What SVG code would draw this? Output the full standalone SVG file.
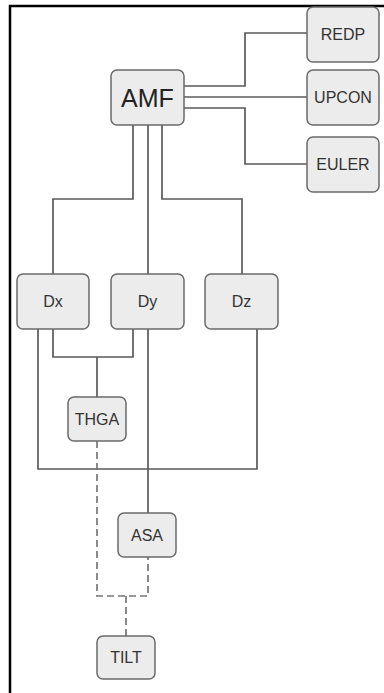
<svg xmlns="http://www.w3.org/2000/svg" width="384" height="693" viewBox="0 0 384 693">
<style>
.n rect{fill:#ececec;stroke:#6a6a6a;stroke-width:1.5}
.n text{font-family:"Liberation Sans",Arial,sans-serif;font-size:16px;fill:#333;text-anchor:middle;dominant-baseline:central}
#edges path{fill:none;stroke:#5a5a5a;stroke-width:1.7}
#edges .d{stroke:#777;stroke-dasharray:7,4}
</style>
<rect width="384" height="693" fill="#fff"/>
<path d="M10,693 V6 H384" fill="none" stroke="#000" stroke-width="2.5"/>
<g id="edges">
<path d="M184,86 H245 V33 H307"/>
<path d="M184,97 H307"/>
<path d="M184,108 H245 V164 H307"/>
<path d="M133,125 V199 H53 V274"/>
<path d="M148,125 V274"/>
<path d="M162,125 V199 H242 V274"/>
<path d="M53,329 V357 H133 V329"/>
<path d="M97,357 V397"/>
<path d="M38,329 V469 H257 V329"/>
<path d="M148,329 V513"/>
<path class="d" d="M97,441 V596 H148 V557"/>
<path class="d" d="M126,596 V636"/>
</g>
<g id="REDP" class="n"><rect x="307" y="7" width="72" height="55" rx="6"/><text x="343" y="34">REDP</text></g>
<g id="UPCON" class="n"><rect x="307" y="70" width="72" height="55" rx="6"/><text x="343" y="97">UPCON</text></g>
<g id="EULER" class="n"><rect x="307" y="137" width="72" height="55" rx="6"/><text x="343" y="164">EULER</text></g>
<g id="AMF" class="n"><rect x="111" y="70" width="73" height="55" rx="6"/><text x="147.5" y="98" style="font-size:25px;fill:#222">AMF</text></g>
<g id="Dx" class="n"><rect x="17" y="274" width="72" height="55" rx="6"/><text x="53" y="301">Dx</text></g>
<g id="Dy" class="n"><rect x="111" y="274" width="73" height="55" rx="6"/><text x="147.5" y="301">Dy</text></g>
<g id="Dz" class="n"><rect x="205" y="274" width="73" height="55" rx="6"/><text x="241.5" y="301">Dz</text></g>
<g id="THGA" class="n"><rect x="68" y="397" width="58" height="44" rx="6"/><text x="97" y="419">THGA</text></g>
<g id="ASA" class="n"><rect x="118" y="513" width="58" height="44" rx="6"/><text x="147" y="535">ASA</text></g>
<g id="TILT" class="n"><rect x="97" y="636" width="58" height="43" rx="6"/><text x="126" y="657.5">TILT</text></g>
</svg>
